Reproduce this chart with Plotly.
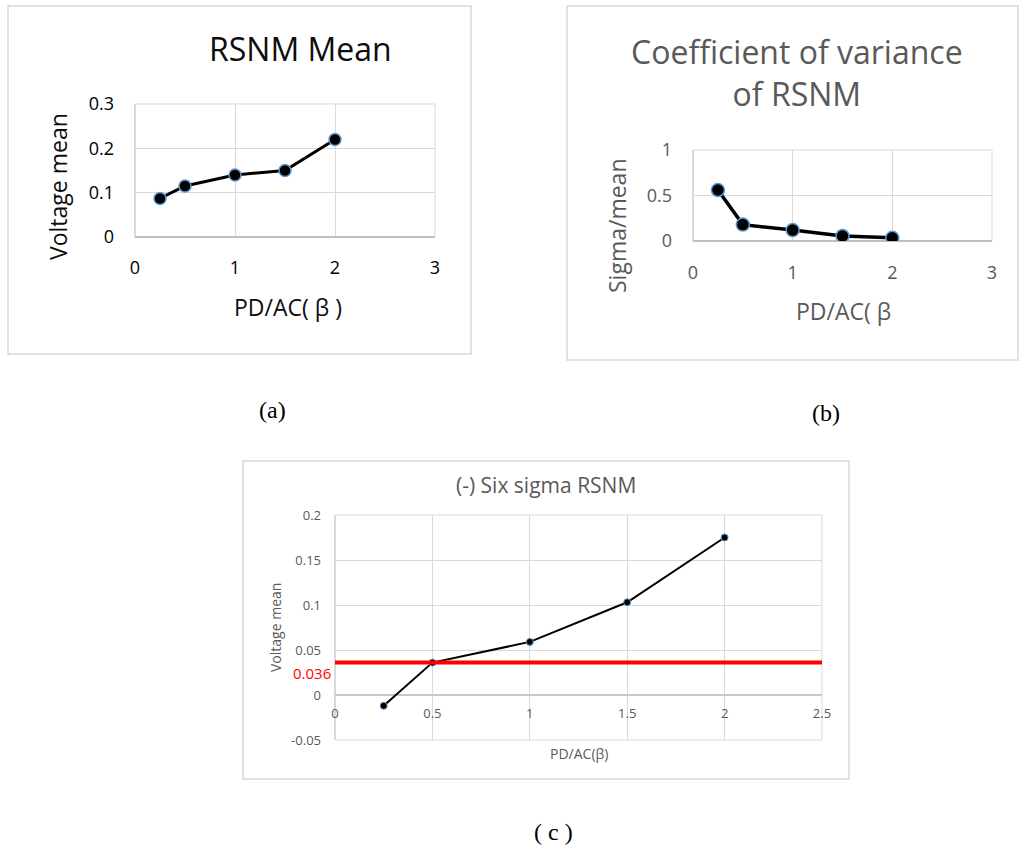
import plotly.graph_objects as go

W, H = 1019, 850

# ---- data -------------------------------------------------------------
beta = [0.25, 0.5, 1, 1.5, 2]
rsnm_mean = [0.087, 0.115, 0.140, 0.150, 0.220]
rsnm_cv = [0.56, 0.18, 0.12, 0.055, 0.035]
rsnm_six_sigma = [-0.012, 0.036, 0.059, 0.103, 0.175]
threshold = 0.036

c_xticks = [0, 0.5, 1, 1.5, 2, 2.5]
c_xticktext = ["0", "0.5", "1", "1.5", "2", "2.5"]
c_yticks = [-0.05, 0, 0.05, 0.1, 0.15, 0.2]
c_yticktext = ["-0.05", "0", "0.05", "0.1", "0.15", "0.2"]

FONT = "Open Sans"
GREY_TXT = "#595959"
GRID = "#d9d9d9"
MARK_EDGE = "#5b9bd5"


def px(x):
    return x / W


def py(y):
    return 1 - y / H


fig = go.Figure()

# (a) RSNM mean
fig.add_trace(go.Scatter(
    x=beta, y=rsnm_mean, mode="lines+markers", xaxis="x", yaxis="y",
    line=dict(color="black", width=3),
    marker=dict(size=12, color="black", line=dict(color=MARK_EDGE, width=1.5)),
))
# (b) coefficient of variance
fig.add_trace(go.Scatter(
    x=beta, y=rsnm_cv, mode="lines+markers", xaxis="x2", yaxis="y2",
    line=dict(color="black", width=3.5),
    marker=dict(size=13, color="black", line=dict(color=MARK_EDGE, width=1.5)),
))
# (c) six sigma RSNM
fig.add_trace(go.Scatter(
    x=beta, y=rsnm_six_sigma, mode="lines+markers", xaxis="x3", yaxis="y3",
    line=dict(color="black", width=2),
    marker=dict(size=7, color="black", line=dict(color=MARK_EDGE, width=1)),
))

common = dict(showline=False, showgrid=True, gridcolor=GRID, gridwidth=1,
              ticks="", fixedrange=True, automargin=False)

fig.update_layout(
    width=W, height=H, margin=dict(l=0, r=0, t=0, b=0, pad=0, autoexpand=False),
    paper_bgcolor="white", plot_bgcolor="white", showlegend=False,
    xaxis=dict(domain=[px(135), px(435)], range=[0, 3], dtick=1, anchor="y",
               zeroline=True, zerolinecolor=GRID, ticklabelstandoff=18,
               tickfont=dict(family=FONT, size=18, color="black"), **common),
    yaxis=dict(domain=[py(237), py(104)], range=[0, 0.3], dtick=0.1, anchor="x",
               zeroline=True, zerolinecolor="#bfbfbf", ticklabelstandoff=20,
               tickfont=dict(family=FONT, size=18, color="black"), **common),
    xaxis2=dict(domain=[px(693), px(992)], range=[0, 3], dtick=1, anchor="y2",
                zeroline=True, zerolinecolor=GRID, ticklabelstandoff=19,
                tickfont=dict(family=FONT, size=18, color=GREY_TXT), **common),
    yaxis2=dict(domain=[py(241), py(150)], range=[0, 1], dtick=0.5, anchor="x2",
                zeroline=True, zerolinecolor="#bfbfbf", ticklabelstandoff=20,
                tickfont=dict(family=FONT, size=18, color=GREY_TXT), **common),
    xaxis3=dict(domain=[px(335), px(822)], range=[0, 2.5],
                tickvals=c_xticks, ticktext=c_xticktext,
                anchor="free", position=py(695), zeroline=True,
                zerolinecolor=GRID, ticklabelstandoff=9,
                tickfont=dict(family=FONT, size=13, color=GREY_TXT), **common),
    yaxis3=dict(domain=[py(740), py(515)], range=[-0.05, 0.2],
                tickvals=c_yticks, ticktext=c_yticktext, anchor="x3",
                zeroline=True, zerolinecolor="#c8c8c8", ticklabelstandoff=13,
                tickfont=dict(family=FONT, size=13, color=GREY_TXT), **common),
)

shapes = []
# panel frames
for x0, y0, x1, y1 in [(8, 6, 471, 354), (567, 6, 1018, 360), (243, 461, 849, 779)]:
    shapes.append(dict(type="rect", xref="paper", yref="paper",
                       x0=px(x0), x1=px(x1), y0=py(y1), y1=py(y0),
                       line=dict(color=GRID, width=1.5), layer="below"))
# plot-area borders
for xr, yr in [("x", "y"), ("x2", "y2"), ("x3", "y3")]:
    shapes.append(dict(type="rect", xref=f"{xr} domain", yref=f"{yr} domain",
                       x0=0, x1=1, y0=0, y1=1,
                       line=dict(color=GRID, width=1), layer="below"))
# threshold line in (c)
shapes.append(dict(type="line", xref="x3 domain", yref="y3",
                   x0=0, x1=1, y0=threshold, y1=threshold,
                   line=dict(color="#ff0000", width=4), layer="above"))
fig.update_layout(shapes=shapes)


def label(text, x, y, size, color, family=FONT, angle=0, xanchor="center"):
    fig.add_annotation(text=text, x=px(x), y=py(y), xref="paper", yref="paper",
                       showarrow=False, xanchor=xanchor, yanchor="middle",
                       textangle=angle,
                       font=dict(family=family, size=size, color=color))


# (a) texts
label("RSNM Mean", 300, 48, 32, "#0d0d0d")
label("Voltage mean", 58, 187, 23, "#0d0d0d", angle=-90)
label("PD/AC( β )", 288, 307, 23, "#0d0d0d")
# (b) texts
label("Coefficient of variance<br>of RSNM", 797, 72, 32, GREY_TXT)
label("Sigma/mean", 617, 226, 23, GREY_TXT, angle=-90)
label("PD/AC( β", 843, 311, 23, GREY_TXT)
# (c) texts
label("(-) Six sigma RSNM", 546, 485, 21, GREY_TXT)
label("Voltage mean", 275, 628, 14, GREY_TXT, angle=-90)
label("PD/AC(β)", 579, 753, 14, GREY_TXT)
fig.add_annotation(text=f"{threshold:.3f}", x=px(333), y=threshold,
                   xref="paper", yref="y3", yshift=-10, showarrow=False,
                   xanchor="right", yanchor="middle",
                   font=dict(family=FONT, size=15, color="#ff0000"))
# panel captions
label("(a)", 272, 410, 24, "black", family="Liberation Serif")
label("(b)", 826, 413, 24, "black", family="Liberation Serif")
label("( c )", 553, 832, 24, "black", family="Liberation Serif")

fig.write_html("out.html")
